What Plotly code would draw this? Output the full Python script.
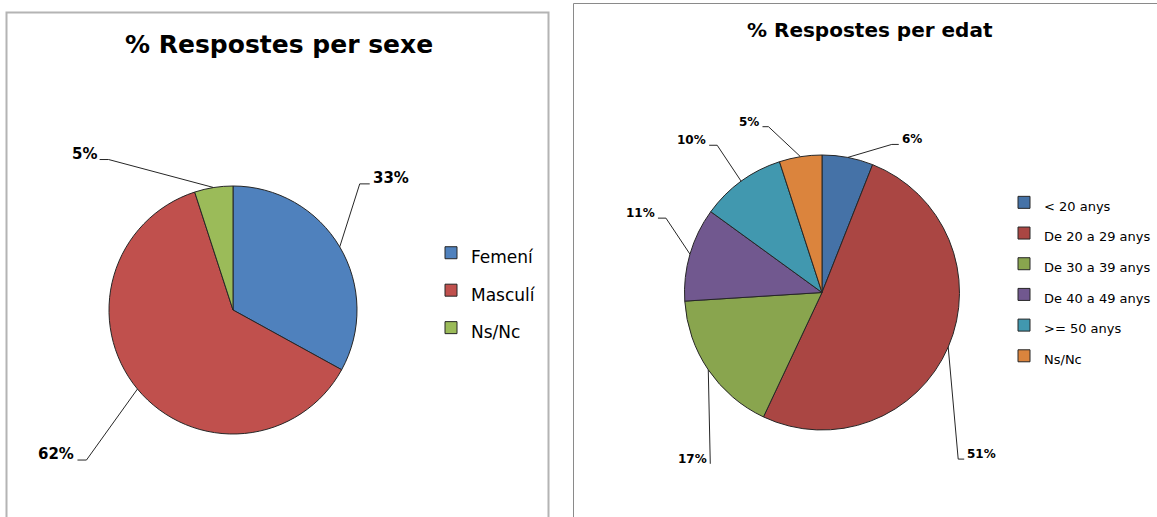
import math
import plotly.graph_objects as go

W, H = 1157, 517

# ---------------- data ----------------
sex_title = "% Respostes per sexe"
sex_labels = ["Femení", "Masculí", "Ns/Nc"]
sex_values = [33, 62, 5]
sex_colors = ["#4F81BD", "#C0504D", "#9BBB59"]

age_title = "% Respostes per edat"
age_labels = ["< 20 anys", "De 20 a 29 anys", "De 30 a 39 anys",
              "De 40 a 49 anys", ">= 50 anys", "Ns/Nc"]
age_values = [6, 51, 17, 11, 10, 5]
age_colors = ["#4572A7", "#AA4643", "#89A54E", "#71588F", "#4198AF", "#DB843D"]

# ---------------- style / layout constants ----------------
LINE = "#262626"
FONT = "DejaVu Sans"

panels = [
    dict(
        labels=sex_labels, values=sex_values, colors=sex_colors, title=sex_title,
        cx=233, cy=310, r=124, legend="legend", group="sexe",
        title_xy=(279, 44), title_size=25,
        lab_size=15, lab_cap=6,
        legend_fs=17, legend_rowfs=26.5, legend_x=431, legend_top=229,
        # leader line: (dx, dy) from slice edge to elbow, side, tail length
        leaders=[(20, -63, 1, 10), (-51, 71, -1, 9), (-105, -28, -1, 9)],
    ),
    dict(
        labels=age_labels, values=age_values, colors=age_colors, title=age_title,
        cx=822, cy=292.5, r=137.5, legend="legend2", group="edat",
        title_xy=(870, 30), title_size=20,
        lab_size=12, lab_cap=5,
        legend_fs=13, legend_rowfs=21.3, legend_x=1004, legend_top=182,
        leaders=[(44, -13, 1, 7), (10, 112, 1, 6), (2, 94, -1, 0),
                 (-24, -36, -1, 8), (-24, -36, -1, 8), (-32, -30, -1, 6)],
    ),
]


def X(px):
    return px / W


def Y(py):
    return 1 - py / H


fig = go.Figure()
shapes = []
annotations = []

# panel frames
shapes.append(dict(type="rect", xref="paper", yref="paper",
                   x0=X(6.5), y0=Y(540), x1=X(548.5), y1=Y(12.5),
                   line=dict(color="#B4B4B4", width=2), fillcolor="rgba(0,0,0,0)", layer="below"))
shapes.append(dict(type="rect", xref="paper", yref="paper",
                   x0=X(573.5), y0=Y(540), x1=X(1170), y1=Y(3.5),
                   line=dict(color="#8A8A8A", width=1), fillcolor="rgba(0,0,0,0)", layer="below"))

layout_legends = {}

for p in panels:
    cx, cy, r = p["cx"], p["cy"], p["r"]
    legend_labels = [
        '<span style="font-size:%gpx">%s</span>' % (p["legend_fs"], lab) for lab in p["labels"]
    ]
    fig.add_trace(go.Pie(
        labels=legend_labels,
        values=p["values"],
        marker=dict(colors=p["colors"], line=dict(color=LINE, width=1)),
        sort=False, direction="clockwise", rotation=0,
        textinfo="none", hoverinfo="label+percent",
        domain=dict(x=[X(cx - r), X(cx + r)], y=[Y(cy + r), Y(cy - r)]),
        legend=p["legend"], legendgroup=p["group"],
        showlegend=True,
    ))

    layout_legends[p["legend"]] = dict(
        x=X(p["legend_x"]), y=Y(p["legend_top"]), xanchor="left", yanchor="top",
        font=dict(family=FONT, size=p["legend_rowfs"], color="#000000"),
        bgcolor="rgba(0,0,0,0)", borderwidth=0, traceorder="normal",
    )

    # title
    annotations.append(dict(
        text="<b>%s</b>" % p["title"], xref="paper", yref="paper",
        x=X(p["title_xy"][0]), y=Y(p["title_xy"][1]),
        xanchor="center", yanchor="middle", showarrow=False,
        font=dict(family=FONT, size=p["title_size"], color="#000000"),
    ))

    # percentage labels with leader lines
    total = sum(p["values"])
    cum = 0
    for v, (dx, dy, side, tail) in zip(p["values"], p["leaders"]):
        frac = (cum + v / 2) / total
        cum += v
        th = 2 * math.pi * frac
        ex, ey = cx + r * math.sin(th), cy - r * math.cos(th)
        kx, ky = ex + dx, ey + dy
        tx = kx + side * tail
        shapes.append(dict(
            type="path", xref="paper", yref="paper",
            path="M %f %f L %f %f L %f %f" % (X(ex), Y(ey), X(kx), Y(ky), X(tx), Y(ky)),
            line=dict(color=LINE, width=1),
        ))
        annotations.append(dict(
            text="<b>%d%%</b>" % round(v * 100 / total), xref="paper", yref="paper",
            x=X(tx + side * 2), y=Y(ky - p["lab_cap"]),
            xanchor="left" if side > 0 else "right", yanchor="middle",
            showarrow=False, borderpad=0,
            font=dict(family=FONT, size=p["lab_size"], color="#000000"),
        ))

fig.update_layout(
    width=W, height=H,
    margin=dict(l=0, r=0, t=0, b=0),
    paper_bgcolor="#FFFFFF", plot_bgcolor="#FFFFFF",
    shapes=shapes, annotations=annotations,
    showlegend=True,
    **layout_legends,
)

fig.write_html(
    "out.html",
    config={"displayModeBar": False},
    post_script="document.body.style.margin='0';document.body.style.overflow='hidden';",
)
